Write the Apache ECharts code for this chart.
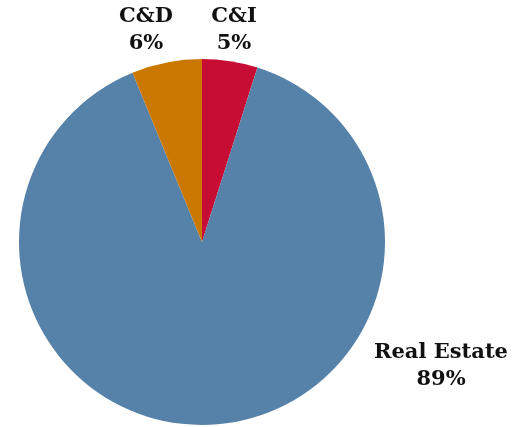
<!DOCTYPE html>
<html>
<head>
<meta charset="utf-8">
<script src="https://cdn.jsdelivr.net/npm/echarts@6/dist/echarts.min.js"></script>
<style>
  html, body { margin: 0; padding: 0; background: #fff; }
  #box { width: 522px; height: 427px; }
</style>
</head>
<body>
<div id="box"></div>
<script>
// clockwise from 12 o'clock
const categories = ['C&I', 'Real Estate', 'C&D']
const values = [4.9, 88.9, 6.2]
const labels = ['5%', '89%', '6%']
const colors = ['#C80D35', '#5682AA', '#CB7800']

// where each label sits (center of the text block)
const labelPos = [[234, 30], [441, 366], [146, 30]]

const myEcharts = echarts.init(document.getElementById('box'))
const options = {
  animation: false,
  series: [{
    type: 'pie',
    center: [202, 242],
    radius: 183,
    startAngle: 90,
    clockwise: true,
    data: categories.map((name, i) => ({
      name: name,
      value: values[i],
      itemStyle: { color: colors[i] }
    })),
    itemStyle: { borderWidth: 0 },
    emphasis: { disabled: true },
    label: {
      show: true,
      position: 'outside',
      formatter: (p) => p.name + '\n' + labels[p.dataIndex],
      fontFamily: 'DejaVu Serif',
      fontWeight: 'bold',
      fontSize: 21,
      lineHeight: 27,
      color: '#111',
      align: 'center'
    },
    labelLine: { show: false },
    labelLayout: (p) => ({
      x: labelPos[p.dataIndex][0],
      y: labelPos[p.dataIndex][1],
      align: 'center',
      verticalAlign: 'middle'
    })
  }]
}
myEcharts.setOption(options)
</script>
</body>
</html>
